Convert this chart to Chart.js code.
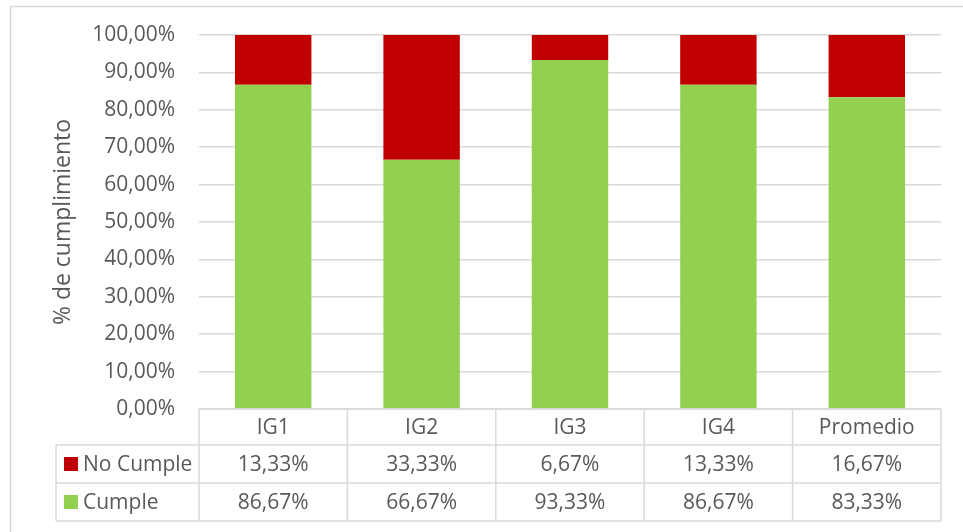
<!DOCTYPE html>
<html>
<head>
<meta charset="utf-8">
<script src="https://cdn.jsdelivr.net/npm/chart.js@4"></script>
<style>
  html, body { margin: 0; padding: 0; background: #fff; }
  #wrap { position: relative; width: 963px; height: 532px; }
</style>
</head>
<body>
<div id="wrap"><canvas id="c" width="963" height="532"></canvas></div>
<script>
const categories = ['IG1', 'IG2', 'IG3', 'IG4', 'Promedio'];
const noCumple = [13.33, 33.33, 6.67, 13.33, 16.67];
const cumple = [86.67, 66.67, 93.33, 86.67, 83.33];
const seriesNames = ['No Cumple', 'Cumple'];
const yTicks = [0, 10, 20, 30, 40, 50, 60, 70, 80, 90, 100];

const RED = '#C00000', GREEN = '#92D050', TXT = '#595959', GRID = '#D9D9D9';
const FONT = '"Open Sans", sans-serif';
const fmt = v => v.toFixed(2).replace('.', ',') + '%';

const framePlugin = {
  id: 'frame',
  beforeDraw(chart) {
    const ctx = chart.ctx;
    ctx.save();
    ctx.strokeStyle = GRID;
    ctx.lineWidth = 1.5;
    ctx.beginPath();
    ctx.moveTo(10.5, 540);
    ctx.lineTo(10.5, 6.5);
    ctx.lineTo(970, 6.5);
    ctx.stroke();
    ctx.restore();
  }
};

const tablePlugin = {
  id: 'dataTable',
  afterDraw(chart) {
    const ctx = chart.ctx;
    const x = chart.scales.x;
    const area = chart.chartArea;
    const top = area.bottom;
    const rowH = [36, 38, 38];
    const y1 = top + rowH[0], y2 = y1 + rowH[1], y3 = y2 + rowH[2];
    const leftX = 56;
    const n = categories.length;
    const colW = (area.right - area.left) / n;
    ctx.save();
    ctx.strokeStyle = GRID;
    ctx.lineWidth = 1.5;
    ctx.beginPath();
    [y1, y2, y3].forEach(yy => { ctx.moveTo(leftX, yy); ctx.lineTo(area.right, yy); });
    ctx.moveTo(area.left, top); ctx.lineTo(area.right, top);
    for (let i = 0; i <= n; i++) {
      const xx = area.left + i * colW;
      ctx.moveTo(xx, top); ctx.lineTo(xx, y3);
    }
    ctx.moveTo(leftX, y1); ctx.lineTo(leftX, y3);
    ctx.stroke();

    ctx.fillStyle = TXT;
    ctx.font = '21px ' + FONT;
    ctx.textAlign = 'center';
    ctx.textBaseline = 'middle';
    categories.forEach((c, i) => {
      const cx = x.getPixelForValue(i);
      ctx.fillText(c, cx, (top + y1) / 2 + 1);
      ctx.fillText(fmt(noCumple[i]), cx, (y1 + y2) / 2 + 1);
      ctx.fillText(fmt(cumple[i]), cx, (y2 + y3) / 2 + 1);
    });
    const rows = [[seriesNames[0], RED, (y1 + y2) / 2], [seriesNames[1], GREEN, (y2 + y3) / 2]];
    rows.forEach(([name, col, cy]) => {
      ctx.fillStyle = col;
      ctx.fillRect(64, cy - 7, 14, 14);
      ctx.fillStyle = TXT;
      ctx.textAlign = 'left';
      ctx.fillText(name, 83, cy + 1);
    });
    ctx.restore();
  }
};

new Chart(document.getElementById('c'), {
  type: 'bar',
  data: {
    labels: categories,
    datasets: [
      { label: seriesNames[1], data: cumple, backgroundColor: GREEN, borderWidth: 0, stack: 's' },
      { label: seriesNames[0], data: noCumple, backgroundColor: RED, borderWidth: 0, stack: 's' }
    ]
  },
  options: {
    responsive: false,
    animation: false,
    devicePixelRatio: 1,
    layout: { padding: { left: 0, right: 22, top: 35, bottom: 123 } },
    plugins: { legend: { display: false }, tooltip: { enabled: false } },
    datasets: { bar: { categoryPercentage: 1, barPercentage: 0.515 } },
    scales: {
      x: { display: false, stacked: true, grid: { display: false } },
      y: {
        stacked: true,
        min: 0, max: 100,
        afterFit(scale) { scale.width = 199; scale.paddingTop = 0; scale.paddingBottom = 0; },
        afterBuildTicks(scale) { scale.ticks = yTicks.map(v => ({ value: v })); },
        border: { display: false },
        grid: { color: GRID, lineWidth: 1.5, drawTicks: false },
        ticks: { color: TXT, font: { family: FONT, size: 21 }, padding: 24, callback: v => fmt(v) },
        title: { display: true, text: '% de cumplimiento', color: TXT, font: { family: FONT, size: 23 }, padding: { top: 50, bottom: 0 } }
      }
    }
  },
  plugins: [framePlugin, tablePlugin]
});
</script>
</body>
</html>
